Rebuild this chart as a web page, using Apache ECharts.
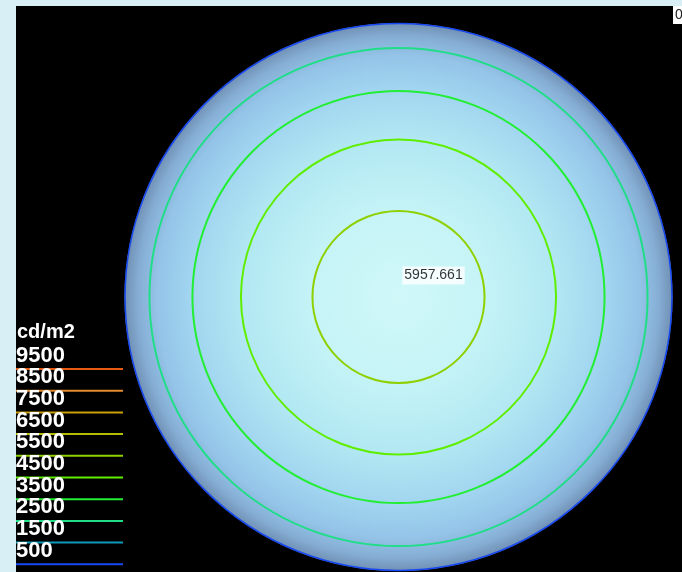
<!DOCTYPE html>
<html>
<head>
<meta charset="utf-8">
<script src="https://cdn.jsdelivr.net/npm/echarts@6/dist/echarts.min.js"></script>
<style>
  html, body { margin: 0; padding: 0; background: #d7eff5; }
  #chart { width: 682px; height: 572px; }
</style>
</head>
<body>
<div id="chart"></div>
<script>
// Luminance levels shown in the colour key (cd/m2), top to bottom
const keyLevels = [9500, 8500, 7500, 6500, 5500, 4500, 3500, 2500, 1500, 500];
const keyColors = ['#e65a12', '#e28a2c', '#c9a005', '#b5bd05', '#8fd000',
                   '#60ee00', '#22ee33', '#20dd88', '#1199bb', '#1848f0'];
const keyUnit = 'cd/m2';

// Iso-luminance contours: level and normalised radius on the disk
const contourLevels = [5500, 4500, 3500, 2500, 500];
const contourRadii  = [0.314, 0.575, 0.752, 0.909, 0.998];

// Disk of the luminance map (normalised radius) and its peak value at centre
const diskRadius = 1.0;
const peakPoint = [0, 0];
const peakValue = 5957.661;
const cornerText = '0';

const levelColor = lv => keyColors[keyLevels.indexOf(lv)];

const chart = echarts.init(document.getElementById('chart'));

const contourData = contourLevels.map((lv, i) => [contourRadii[i], lv]);

function circleItem(params, api, r, style) {
  const c = api.coord(peakPoint);
  const rad = api.size([r, 0])[0];
  return { type: 'circle', shape: { cx: c[0], cy: c[1], r: rad }, style: style };
}

// Colour key built from the level arrays
const keyGraphics = [];
const keyTop = 355.5, keyStep = 21.7;
const keyFont = 'bold 22px "Liberation Sans", Arial, sans-serif';
keyGraphics.push({
  type: 'text', left: 17, top: keyTop - keyStep - 11, z: 100,
  style: { text: keyUnit, fill: '#fff', font: 'bold 20px "Liberation Sans", Arial, sans-serif' }
});
keyLevels.forEach((lv, i) => {
  const yc = keyTop + keyStep * i;
  keyGraphics.push({
    type: 'text', left: 16, top: yc - 11, z: 100,
    style: { text: String(lv), fill: '#fff', font: keyFont }
  });
  keyGraphics.push({
    type: 'line', z: 100,
    shape: { x1: 16, y1: yc + 13.5, x2: 123, y2: yc + 13.5 },
    style: { stroke: keyColors[i], lineWidth: 2 }
  });
});

const option = {
  backgroundColor: '#d7eff5',
  animation: false,
  grid: { left: 124.5, top: 23, width: 548, height: 548, show: false },
  xAxis: { type: 'value', min: -diskRadius, max: diskRadius, show: false },
  yAxis: { type: 'value', min: -diskRadius, max: diskRadius, show: false },
  graphic: [
    { type: 'rect', z: -10, shape: { x: 16, y: 6, width: 666, height: 566 }, style: { fill: '#000' } },
    {
      type: 'text', z: 100, left: 673, top: 6,
      style: { text: cornerText, fill: '#222', backgroundColor: '#fff',
               padding: [2, 2, 2, 2], font: '14px "Liberation Sans", Arial, sans-serif' }
    }
  ].concat(keyGraphics),
  series: [
    {
      // luminance map disk
      type: 'custom', z: 1,
      data: [[diskRadius]],
      renderItem: (params, api) => circleItem(params, api, api.value(0), {
        fill: {
          type: 'radial', x: 0.5, y: 0.5, r: 0.5,
          colorStops: [
            { offset: 0.0, color: '#d0f8f9' },
            { offset: 0.3, color: '#c6f4f7' },
            { offset: 0.57, color: '#b2e8f2' },
            { offset: 0.75, color: '#a2d6f0' },
            { offset: 0.88, color: '#94c4e8' },
            { offset: 0.95, color: '#86aed4' },
            { offset: 1.0, color: '#7090b4' }
          ]
        }
      })
    },
    {
      // iso-luminance contours
      type: 'custom', z: 2,
      data: contourData,
      renderItem: (params, api) => circleItem(params, api, api.value(0), {
        fill: 'none', stroke: levelColor(api.value(1)),
        lineWidth: api.value(1) === 500 ? 1.5 : 2
      })
    },
    {
      // peak value label at the centre
      type: 'scatter', z: 5,
      symbolSize: 0,
      data: [peakPoint.concat([peakValue])],
      label: {
        show: true, position: 'inside', offset: [35, -21.5],
        formatter: p => p.value[2].toFixed(3),
        color: '#000', backgroundColor: '#fff', padding: [2, 2, 2, 2],
        fontSize: 14, fontFamily: '"Liberation Sans", Arial, sans-serif'
      }
    }
  ]
};

chart.setOption(option);
</script>
</body>
</html>
